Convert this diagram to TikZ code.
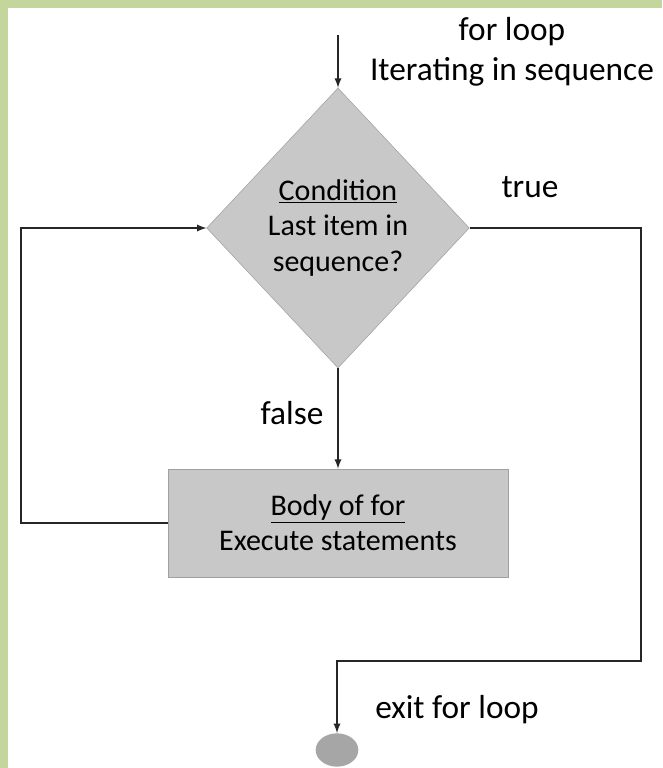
\documentclass[tikz,border=0pt]{standalone}
\usepackage{fontspec}
\setmainfont{Carlito}
\usepackage{tikz}
\usetikzlibrary{arrows}
\usetikzlibrary{shapes.geometric}

\definecolor{frame}{RGB}{196,214,155}
\definecolor{shapefill}{RGB}{200,200,200}
\definecolor{shapeline}{RGB}{160,160,160}
\definecolor{dotfill}{RGB}{166,166,166}

\tikzset{
  txt/.style={font=\fontsize{25}{30}\selectfont, inner sep=0pt},
  decision/.style={diamond, draw=shapeline, fill=shapefill, inner sep=0pt,
    minimum width=197pt, minimum height=210pt, align=center,
    font=\fontsize{22.5}{26.5}\selectfont},
  bodybox/.style={rectangle, draw=shapeline, fill=shapefill,
    minimum width=255pt, minimum height=81pt, align=center,
    font=\fontsize{22.5}{26.5}\selectfont},
  exitdot/.style={ellipse, fill=dotfill, minimum width=32pt, minimum height=25pt, inner sep=0pt},
  flow/.style={line width=1.4pt, draw=black!85},
  >=latex
}

\begin{document}
\begin{tikzpicture}[x=0.75pt,y=0.75pt]
              \fill[frame] (0,0) rectangle (662,768);
              \fill[white] (8,0) rectangle (662,760);
              \useasboundingbox (0,0) rectangle (662,768);

              \coordinate (start) at (338,733);
              \node[decision] (cond) at (338,540) {\underline{Condition}\\Last item in\\sequence?};
              \node[bodybox] (body) at (338,245) {\underline{Body of for}\\Execute statements};
              \node[exitdot] (exit) at (337,18) {};

              \node[txt, align=center] (head) at (512,716) {for loop\\Iterating in sequence};
              \node[txt] (truelbl) at (530,581) {true};
              \node[txt] (falselbl) at (292,355) {false};
              \node[txt] (exitlbl) at (457,58) {exit for loop};

              \coordinate (rtop) at (641,540);
              \coordinate (rbot) at (641,107);
              \coordinate (ldown) at (21,245);

              \draw[flow,->] (start) -- (cond.north);
              \draw[flow,->] (cond.south) -- (body.north);
              \draw[flow,->] (body.west) -- (ldown) |- (cond.west);
              \draw[flow,->] (cond.east) -- (rtop) -- (rbot) -| (exit.north);
            \end{tikzpicture}
\end{document}
